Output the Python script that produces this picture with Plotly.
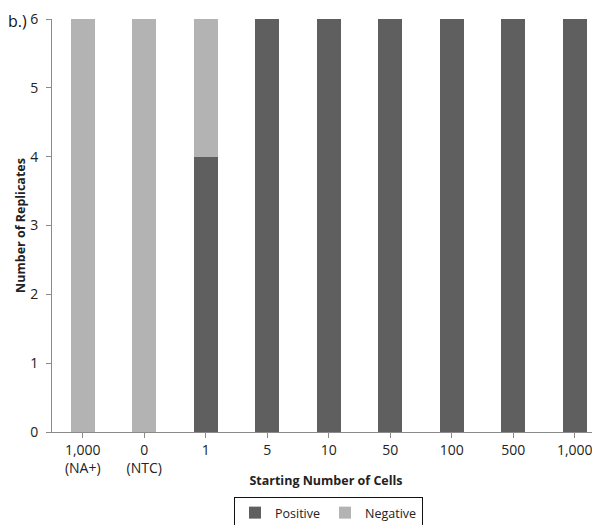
import plotly.graph_objects as go

categories = ["1,000<br>(NA+)", "0<br>(NTC)", "1", "5", "10", "50", "100", "500", "1,000"]
positive = [0, 0, 4, 6, 6, 6, 6, 6, 6]
negative = [6, 6, 2, 0, 0, 0, 0, 0, 0]
y_ticks = [0, 1, 2, 3, 4, 5, 6]

FONT = "Open Sans"
x_ids = list(range(len(categories)))

W, H = 592, 517
L, T, B = 44, 11, 93
PW = W - L
PH = H - T - B

fig = go.Figure()
fig.add_trace(go.Bar(x=x_ids, y=positive, name="Positive", marker=dict(color="#5f5f5f", line=dict(width=0))))
fig.add_trace(go.Bar(x=x_ids, y=negative, name="Negative", marker=dict(color="#b3b3b3", line=dict(width=0))))

fig.update_layout(
    width=W, height=H,
    barmode="stack", bargap=0.61,
    paper_bgcolor="white", plot_bgcolor="white",
    margin=dict(l=L, r=0, t=T, b=B, autoexpand=False),
    font=dict(family=FONT, color="#222222", size=14),
    showlegend=True,
    legend=dict(orientation="h", x=(320.5 - L) / PW, xanchor="center", y=-(489 - (T + PH)) / PH, yanchor="top",
                traceorder="normal",
                bordercolor="#111111", borderwidth=1, font=dict(size=12.5, family=FONT),
                itemwidth=30, tracegroupgap=0),
    xaxis=dict(tickmode="array", tickvals=x_ids, ticktext=categories, range=[-0.5, 8.41],
               showline=True, linecolor="#8a8a8a", linewidth=1,
               ticks="outside", tickson="boundaries", ticklen=5, tickcolor="#8a8a8a",
               showgrid=False, zeroline=False, tickfont=dict(size=14),
               title=dict(text="<b>Starting Number of Cells</b>", font=dict(size=12.5, family=FONT), standoff=0),
               automargin=False),
    yaxis=dict(range=[0, 6], tickvals=y_ticks, showline=True, linecolor="#8a8a8a", linewidth=1,
               ticks="outside", ticklen=5, tickcolor="#8a8a8a", showgrid=False, zeroline=False,
               tickfont=dict(size=14), ticklabelstandoff=5,
               title=dict(text="<b>Number of Replicates</b>", font=dict(size=12.5, family=FONT), standoff=1),
               automargin=False),
)

fig.add_annotation(text="b.)", xref="paper", yref="paper",
                   x=(-2 - L) / PW, y=1.0 + T / PH, xanchor="left", yanchor="top",
                   showarrow=False, font=dict(size=16, family=FONT, color="#111111"))

fig.write_html("out.html")
